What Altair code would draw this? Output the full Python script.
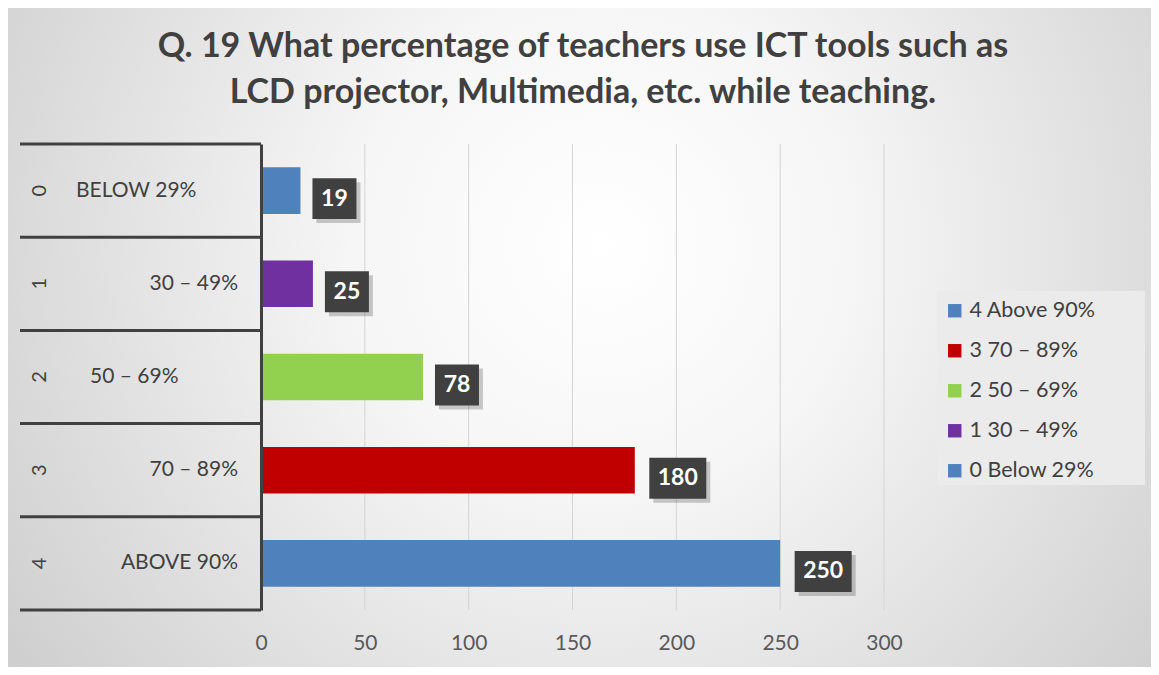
import altair as alt
import pandas as pd

# ---- data ----
categories = ["0", "1", "2", "3", "4"]
inner_labels = ["BELOW 29%", "30 – 49%", "50 – 69%", "70 – 89%", "ABOVE 90%"]
legend_labels = ["0 Below 29%", "1 30 – 49%", "2 50 – 69%", "3 70 – 89%", "4 Above 90%"]
values = [19, 25, 78, 180, 250]
bar_colors = ["#4f81bd", "#7030a0", "#92d050", "#c00000", "#4f81bd"]
x_ticks = [0, 50, 100, 150, 200, 250, 300]
title_lines = [
    "Q. 19 What percentage of teachers use ICT tools such as",
    "LCD projector, Multimedia, etc. while teaching.",
]

FONT = "Lato"
W, H = 623, 466
PL, PT, PR, PB = 253, 136, 267, 57

df = pd.DataFrame({"cat": categories, "inner": inner_labels,
                   "legend": legend_labels, "value": values})
df["label"] = df["value"].astype(str)
one = pd.DataFrame({"d": [0]})
ticks_df = pd.DataFrame({"t": x_ticks})
title_df = pd.DataFrame({"line": title_lines, "row": [0, 1]})

y_axis = alt.Axis(labels=False, ticks=False, title=None, grid=False, domain=True,
                  domainColor="#404040", domainWidth=3, zindex=1)
x_axis = alt.Axis(values=x_ticks, grid=False, domain=False, ticks=False, title=None,
                  labelFont=FONT, labelFontSize=21, labelColor="#595959",
                  labelPadding=22, labelFlush=False, zindex=1)
x_scale = alt.Scale(domain=[0, 300], nice=False, zero=True)
y_scale = alt.Scale(paddingInner=0, paddingOuter=0)

y_enc = alt.Y("cat:N", sort=categories, scale=y_scale, axis=y_axis)
x_enc = alt.X("value:Q", scale=x_scale, axis=x_axis)

# background gradient
bg = alt.Chart(one).mark_rect(
    fill=alt.RadialGradient(
        gradient="radial", x1=0.52, y1=0.42, r1=0, x2=0.52, y2=0.42, r2=0.72,
        stops=[alt.GradientStop(offset=0, color="#ffffff"),
               alt.GradientStop(offset=0.3, color="#f6f6f6"),
               alt.GradientStop(offset=1, color="#c6c6c6")]),
).encode(x=alt.value(-PL), x2=alt.value(W + PR), y=alt.value(-PT), y2=alt.value(H + PB))

legend_bg = alt.Chart(one).mark_rect(fill="#ebebeb").encode(
    x=alt.value(676), x2=alt.value(884), y=alt.value(147), y2=alt.value(341))

grid = alt.Chart(ticks_df).mark_rule(color="#d4d4d4", strokeWidth=1).encode(
    x=alt.X("t:Q", scale=x_scale, axis=x_axis))


def title_layer(i, ypix):
    return alt.Chart(title_df).transform_filter(alt.datum.row == i).mark_text(
        font=FONT, fontSize=34, fontWeight="bold", color="#404040",
        align="center", baseline="middle").encode(
        x=alt.value(322), y=alt.value(ypix), text="line:N")


base = alt.Chart(df)

bars = base.mark_bar(height={"band": 0.5}).encode(
    x=x_enc, y=y_enc,
    color=alt.Color("legend:N",
                    scale=alt.Scale(domain=legend_labels[::-1], range=bar_colors[::-1]),
                    legend=alt.Legend(orient="none", legendX=683, legendY=156, title=None,
                                      symbolType="square", symbolSize=180,
                                      symbolStrokeWidth=0, labelFont=FONT,
                                      labelFontSize=21.5, labelColor="#404040",
                                      labelOffset=4, rowPadding=17, padding=0,
                                      zindex=1)),
)

row_lines = base.mark_rule(color="#404040", strokeWidth=3).encode(
    y=alt.Y("cat:N", sort=categories, scale=y_scale, axis=y_axis, bandPosition=0),
    x=alt.value(-241), x2=alt.value(0))
bottom_line = alt.Chart(one).mark_rule(color="#404040", strokeWidth=3).encode(
    y=alt.value(H), x=alt.value(-241), x2=alt.value(0))

outer_text = base.mark_text(font=FONT, fontSize=20, color="#404040", angle=270,
                            align="center", baseline="middle").encode(
    y=y_enc, x=alt.value(-221), text="cat:N")

right_cats = [categories[i] for i in (1, 3, 4)]
inner_right = base.transform_filter(
    alt.FieldOneOfPredicate(field="cat", oneOf=right_cats)
).mark_text(font=FONT, fontSize=21, color="#404040", align="right",
            baseline="middle").encode(y=y_enc, x=alt.value(-23), text="inner:N")
inner_left0 = base.transform_filter(alt.datum.cat == categories[0]).mark_text(
    font=FONT, fontSize=21, color="#404040", align="left", baseline="middle"
).encode(y=y_enc, x=alt.value(-185), text="inner:N")
inner_left2 = base.transform_filter(alt.datum.cat == categories[2]).mark_text(
    font=FONT, fontSize=21, color="#404040", align="left", baseline="middle"
).encode(y=y_enc, x=alt.value(-171), text="inner:N")

lab = base.transform_calculate(digits="length(datum.label)")
shape2 = "M-1,-0.93L1,-0.93L1,0.93L-1,0.93Z"
shape3 = "M-1,-0.72L1,-0.72L1,0.72L-1,0.72Z"
DY = 8


def box_layers(nd, shape, size, dx):
    d = lab.transform_filter(alt.datum.digits == nd)
    shadow = d.mark_point(shape=shape, size=size, filled=True, fill="#000000",
                          opacity=0.2, strokeWidth=0, xOffset=dx + 4,
                          yOffset=DY + 4).encode(x=x_enc, y=y_enc)
    box = d.mark_point(shape=shape, size=size, filled=True, fill="#404040",
                       opacity=1, strokeWidth=0, xOffset=dx,
                       yOffset=DY).encode(x=x_enc, y=y_enc)
    txt = d.mark_text(font=FONT, fontWeight="bold", fontSize=23, color="white",
                      align="center", baseline="middle", dx=dx, dy=DY).encode(
        x=x_enc, y=y_enc, text="label:N")
    return [shadow, box, txt]


labels = box_layers(2, shape2, 1936, 34) + box_layers(3, shape3, 3249, 43)

chart = alt.layer(
    bg, legend_bg, grid, bars, row_lines, bottom_line, outer_text,
    inner_right, inner_left0, inner_left2, *labels,
    title_layer(0, -97), title_layer(1, -51)
).properties(
    width=W, height=H,
    autosize=alt.AutoSizeParams(type="none"),
    padding={"left": PL, "top": PT, "right": PR, "bottom": PB},
).configure_view(stroke=None).configure(background="#ffffff")

chart.save("out.html", embed_options={"renderer": "svg", "actions": False})
